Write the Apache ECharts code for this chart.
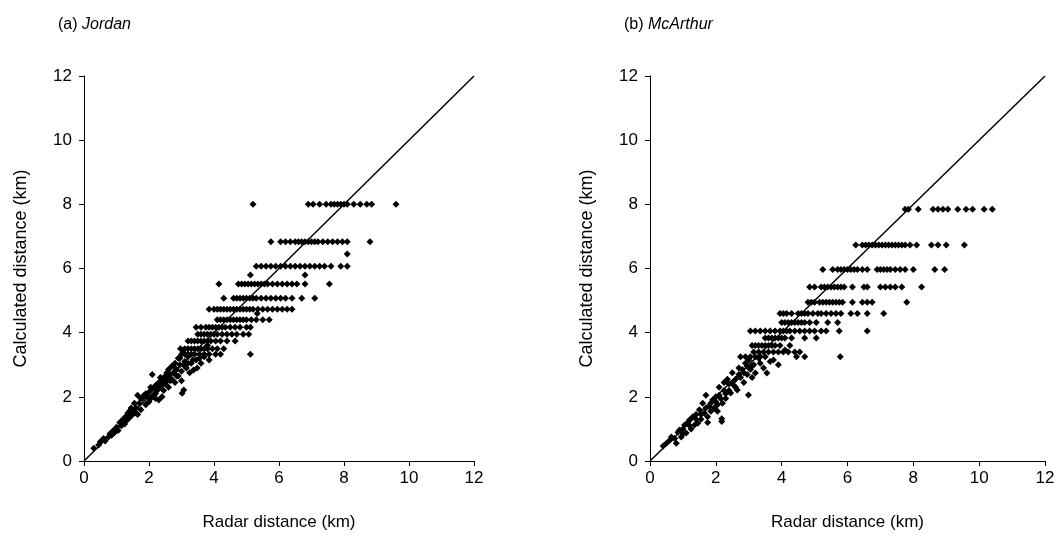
<!DOCTYPE html>
<html>
<head>
<meta charset="utf-8">
<script src="https://cdn.jsdelivr.net/npm/echarts@6/dist/echarts.min.js"></script>
<style>html,body{margin:0;padding:0;background:#fff}#c{width:1063px;height:540px}</style>
</head>
<body>
<div id="c"></div>
<script>
// Axis ticks (km)
const tickValues = [0, 2, 4, 6, 8, 10, 12];
const panelTitles = [["(a) ", "Jordan"], ["(b) ", "McArthur"]];
const xAxisName = "Radar distance (km)";
const yAxisName = "Calculated distance (km)";
const oneToOne = [[0, 0], [12, 12]];

// ---- (a) Jordan: quantised rows of calculated distance (y) with radar distances (x)
const jordanRowY = [8.0, 6.83, 6.45, 6.07, 5.8, 5.52, 5.07, 4.73, 4.6, 4.4, 4.17, 3.95, 3.74, 3.5, 3.33];
const jordanRowX = [
  [5.2, 6.9, 7.05, 7.25, 7.45, 7.6, 7.7, 7.8, 7.9, 8.0, 8.1, 8.3, 8.5, 8.7, 8.85, 9.6],
  [5.75, 6.05, 6.2, 6.35, 6.5, 6.6, 6.7, 6.8, 6.9, 7.0, 7.1, 7.2, 7.35, 7.5, 7.65, 7.8, 7.95, 8.1, 8.8],
  [8.1],
  [5.3, 5.45, 5.6, 5.75, 5.9, 6.05, 6.2, 6.35, 6.5, 6.65, 6.8, 6.95, 7.1, 7.25, 7.4, 7.6, 7.9, 8.1],
  [5.12, 6.8],
  [4.15, 4.75, 4.85, 4.95, 5.05, 5.15, 5.25, 5.35, 5.45, 5.55, 5.65, 5.8, 5.95, 6.1, 6.25, 6.4, 6.55, 6.8, 7.55],
  [4.3, 4.6, 4.7, 4.8, 4.9, 5.0, 5.1, 5.2, 5.3, 5.45, 5.6, 5.75, 5.9, 6.05, 6.2, 6.4, 6.7, 7.1],
  [3.85, 4.0, 4.1, 4.2, 4.3, 4.4, 4.5, 4.6, 4.7, 4.8, 4.9, 5.0, 5.1, 5.2, 5.35, 5.5, 5.65, 5.8, 5.95, 6.1, 6.25, 6.4],
  [5.33],
  [4.1, 4.2, 4.3, 4.4, 4.5, 4.6, 4.7, 4.8, 4.9, 5.0, 5.15, 5.3, 5.5, 5.7],
  [3.45, 3.6, 3.75, 3.85, 3.95, 4.05, 4.15, 4.25, 4.35, 4.5, 4.65, 4.8, 5.0, 5.12],
  [3.5, 3.6, 3.7, 3.8, 3.9, 4.0, 4.1, 4.25, 4.4, 4.55, 4.7, 4.9, 5.07],
  [3.2, 3.3, 3.4, 3.5, 3.6, 3.7, 3.8, 3.9, 4.05, 4.2, 4.4, 4.65],
  [2.97, 3.1, 3.2, 3.3, 3.4, 3.5, 3.6, 3.7, 3.8, 3.95, 4.1, 4.3],
  [3.0, 3.1, 3.2, 3.3, 3.4, 3.55, 3.7, 3.85, 4.05, 4.2, 5.12]
];
// (a) Jordan: scattered low-range points [radar, calculated]
const jordanCloud = [
  [0.3,0.4],[0.45,0.5],[0.5,0.6],[0.6,0.7],[0.65,0.62],[0.75,0.75],[0.8,0.85],[0.85,0.8],[0.9,0.95],[0.95,0.9],
  [1.0,1.05],[1.05,0.95],[1.1,1.2],[1.15,1.1],[1.2,1.3],[1.25,1.15],[1.3,1.4],[1.3,1.25],[1.35,1.5],[1.4,1.35],
  [1.45,1.65],[1.5,1.45],[1.55,1.8],[1.55,1.55],[1.6,1.65],[1.65,2.05],[1.65,1.45],[1.7,1.8],[1.75,1.6],[1.8,1.95],
  [1.85,2.05],[1.9,1.75],[1.95,2.0],[2.0,2.15],[2.0,1.85],[2.05,1.95],[2.1,2.7],[2.1,2.25],[2.15,2.05],[2.2,2.35],
  [2.25,2.2],[2.3,1.9],[2.3,2.45],[2.35,2.3],[2.4,2.55],[2.45,2.2],[2.5,2.65],[2.5,2.4],[2.55,2.5],[2.6,2.85],
  [2.6,2.3],[2.65,2.7],[2.7,2.95],[2.7,2.55],[2.75,2.75],[2.8,3.05],[2.8,2.45],[2.85,2.85],[2.9,3.2],[2.9,2.65],
  [2.95,3.0],[3.0,2.5],[3.0,2.8],[3.05,3.4],[3.02,2.11],[3.07,2.21],[3.1,3.1],[3.15,2.9],[3.2,3.25],[3.25,2.75],
  [3.3,3.05],[3.37,2.84],[3.45,3.15],[3.48,2.9],[3.55,3.2],[3.6,3.05],[3.7,3.25],[3.8,3.6],[3.85,3.15],
  [1.2,1.2],[1.4,1.55],[1.6,1.5],[1.75,1.95],[1.9,2.1],[2.05,2.3],[2.2,2.1],[2.35,2.6],[2.45,2.4],[2.55,2.75],
  [2.65,2.5],[2.75,2.95],[2.85,2.65],[2.95,3.2],[3.1,2.95],[3.2,3.05],[3.35,3.15],[2.4,2.0],[2.2,1.95],[2.6,2.65]
];

// ---- (b) McArthur
const mcarthurRowY = [7.85, 6.73, 5.97, 5.42, 4.95, 4.6, 4.32, 4.05, 3.83, 3.6, 3.4, 3.25];
const mcarthurRowX = [
  [7.75, 7.85, 8.15, 8.6, 8.75, 8.9, 9.05, 9.35, 9.6, 9.8, 10.15, 10.4],
  [6.25, 6.45, 6.55, 6.65, 6.75, 6.85, 6.95, 7.05, 7.15, 7.25, 7.35, 7.45, 7.55, 7.65, 7.75, 7.9, 8.1, 8.55, 8.75, 9.0, 9.55],
  [5.25, 5.55, 5.7, 5.8, 5.9, 6.0, 6.1, 6.2, 6.3, 6.45, 6.6, 6.9, 7.0, 7.1, 7.2, 7.3, 7.45, 7.6, 7.75, 8.0, 8.65, 8.95],
  [4.85, 5.0, 5.2, 5.3, 5.4, 5.5, 5.6, 5.7, 5.8, 5.9, 6.15, 6.5, 6.6, 7.0, 7.15, 7.3, 7.45, 7.65, 8.25],
  [4.8, 4.9, 5.0, 5.15, 5.25, 5.35, 5.45, 5.55, 5.65, 5.75, 5.85, 6.15, 6.45, 6.6, 6.75, 7.8],
  [3.95, 4.05, 4.15, 4.3, 4.5, 4.6, 4.7, 4.8, 4.95, 5.1, 5.2, 5.35, 5.5, 5.65, 5.8, 6.1, 6.3, 6.6, 7.1],
  [4.0, 4.1, 4.2, 4.3, 4.4, 4.5, 4.6, 4.7, 4.85, 5.05, 5.4, 5.7],
  [3.05, 3.2, 3.35, 3.5, 3.65, 3.8, 3.95, 4.05, 4.15, 4.25, 4.4, 4.55, 4.7, 4.85, 5.0, 5.2, 5.35, 5.75, 6.6],
  [3.5, 3.6, 3.7, 3.8, 3.9, 4.0, 4.1, 4.3, 4.7, 5.05],
  [3.1, 3.2, 3.3, 3.4, 3.5, 3.6, 3.7, 3.8, 3.95, 4.25],
  [3.15, 3.3, 3.45, 3.6, 3.75, 3.9, 4.05, 4.2, 4.4, 4.55],
  [2.75, 2.9, 3.05, 3.2, 3.35, 3.5, 4.45, 4.7, 5.78]
];
const mcarthurCloud = [
  [0.4,0.47],[0.5,0.55],[0.6,0.65],[0.65,0.75],[0.75,0.7],[0.8,0.55],[0.85,0.9],[0.9,0.97],[0.95,0.75],[1.0,1.0],
  [1.05,1.12],[1.1,0.87],[1.15,1.2],[1.2,1.28],[1.25,1.0],[1.3,1.38],[1.35,1.12],[1.4,1.45],[1.45,1.18],[1.5,1.6],
  [1.55,1.3],[1.6,1.8],[1.65,1.5],[1.7,2.05],[1.75,1.38],[1.8,1.7],[1.85,1.55],[1.9,1.9],[1.95,1.65],[2.0,2.0],
  [2.05,1.75],[2.1,2.3],[2.15,1.95],[2.2,1.8],[2.25,2.45],[2.3,2.1],[2.35,2.55],[2.4,2.2],[2.45,2.12],[2.5,2.75],
  [2.18,1.23],[2.18,1.32],[2.55,2.35],[2.6,2.55],[2.65,2.21],[2.7,2.9],[2.75,2.6],[2.8,2.85],[2.85,2.45],[2.9,3.05],
  [2.95,2.7],[2.99,2.06],[3.0,3.15],[3.05,2.85],[3.1,2.6],[3.15,3.0],[3.2,2.74],[3.35,3.05],[3.45,2.9],[3.55,2.74],
  [3.65,3.1],[3.75,3.15],[3.9,3.0],[4.1,3.46],
  [1.0,0.85],[1.2,1.1],[1.4,1.3],[1.55,1.45],[1.7,1.65],[1.85,1.8],[2.0,1.85],[2.1,2.05],[2.25,2.2],[2.4,2.4],
  [2.5,2.45],[2.6,2.3],[2.7,2.7],[2.85,2.75],[2.95,2.95],[3.1,2.95],[3.3,3.2],[1.75,1.2],[2.05,1.55],[2.3,1.95]
];

function buildPoints(rowY, rowX, cloud) {
  const pts = [];
  rowY.forEach((y, i) => rowX[i].forEach(x => pts.push([x, y])));
  return pts.concat(cloud);
}

const font = "'Liberation Sans', Arial, sans-serif";
const grids = [
  { left: 84, top: 76, width: 390, height: 385 },
  { left: 650, top: 76, width: 395, height: 385 }
];
function axisCommon(isX, idx) {
  return {
    type: 'value', gridIndex: idx, min: 0, max: 12, interval: 2,
    name: isX ? xAxisName : yAxisName,
    nameLocation: 'middle',
    nameGap: isX ? 53 : 54,
    nameTextStyle: { fontFamily: font, fontSize: isX ? 17 : 18, color: '#000' },
    axisLine: { show: true, onZero: false, lineStyle: { color: '#000', width: 1 } },
    axisTick: { show: true, inside: false, length: 5, lineStyle: { color: '#000' } },
    axisLabel: { fontFamily: font, fontSize: 17, color: '#000', margin: isX ? 9 : 12,
      formatter: v => tickValues.includes(v) ? String(v) : '' },
    splitLine: { show: false }
  };
}
const scatterStyle = { color: '#000', opacity: 1 };
const option = {
  animation: false,
  backgroundColor: '#fff',
  title: panelTitles.map((t, i) => ({
    text: '{n|' + t[0] + '}{i|' + t[1] + '}',
    left: i === 0 ? 53 : 619, top: 12,
    textStyle: { fontWeight: 'normal', rich: {
      n: { fontFamily: font, fontSize: 16, color: '#000', fontWeight: 'normal' },
      i: { fontFamily: font, fontSize: 16, color: '#000', fontStyle: 'italic', fontWeight: 'normal' }
    } }
  })),
  grid: grids,
  xAxis: [axisCommon(true, 0), axisCommon(true, 1)],
  yAxis: [axisCommon(false, 0), axisCommon(false, 1)],
  series: [
    { type: 'scatter', xAxisIndex: 0, yAxisIndex: 0, symbol: 'diamond', symbolSize: [7, 7],
      itemStyle: scatterStyle, data: buildPoints(jordanRowY, jordanRowX, jordanCloud) },
    { type: 'line', xAxisIndex: 0, yAxisIndex: 0, data: oneToOne, symbol: 'none',
      lineStyle: { color: '#000', width: 1.5 }, z: 3 },
    { type: 'scatter', xAxisIndex: 1, yAxisIndex: 1, symbol: 'diamond', symbolSize: [7, 7],
      itemStyle: scatterStyle, data: buildPoints(mcarthurRowY, mcarthurRowX, mcarthurCloud) },
    { type: 'line', xAxisIndex: 1, yAxisIndex: 1, data: oneToOne, symbol: 'none',
      lineStyle: { color: '#000', width: 1.5 }, z: 3 }
  ]
};
echarts.init(document.getElementById('c'), null, { renderer: 'canvas' }).setOption(option);
</script>
</body>
</html>
